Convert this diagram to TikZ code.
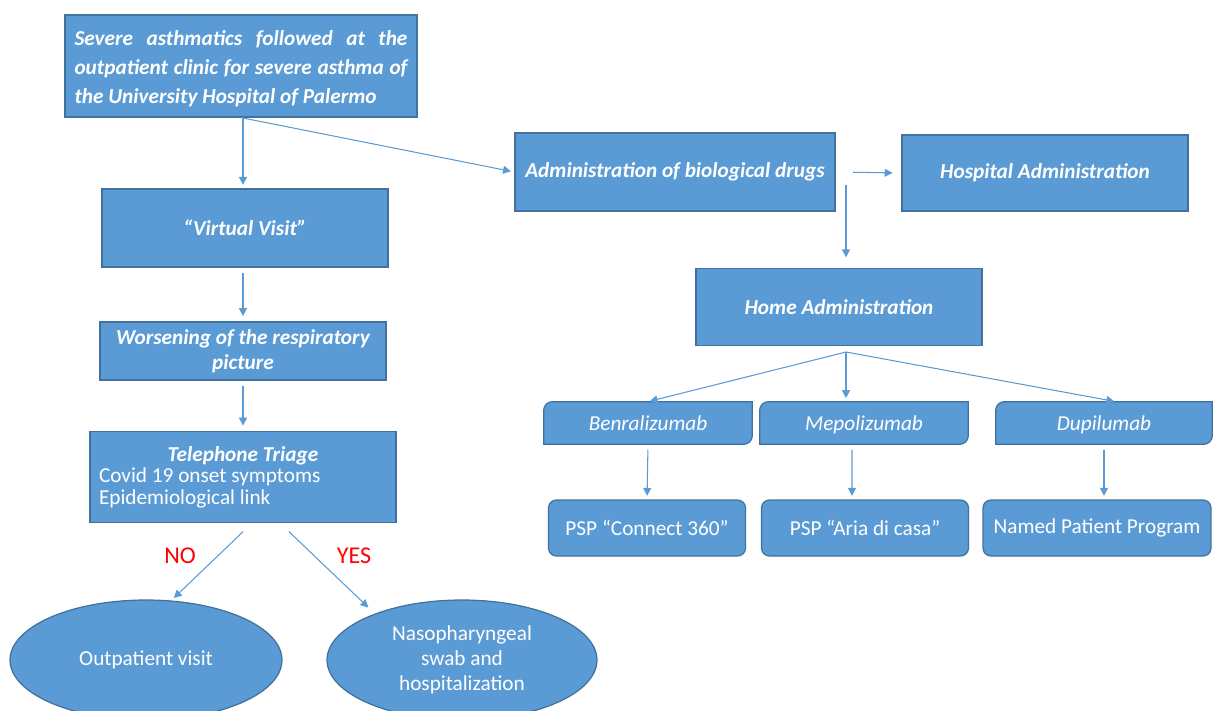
\documentclass[tikz,border=0pt]{standalone}
\usepackage{fontspec}
\setmainfont{Carlito}
\usetikzlibrary{arrows.meta,shapes.geometric,backgrounds}
\definecolor{boxblue}{HTML}{5B9BD5}
\definecolor{boxedge}{HTML}{41719C}
\newcommand\chartsize{\fontsize{12.1}{14.2}\selectfont}
\tikzset{
  box/.style={draw=boxedge, fill=boxblue, line width=0.7pt, text=white, align=center, inner sep=2pt},
  title/.style={font=\chartsize\bfseries\itshape},
  oval/.style={ellipse, draw=boxedge, fill=boxblue, line width=0.7pt, text=white, align=center, inner sep=0pt},
  link/.style={draw=boxblue, line width=0.6pt, -{Triangle[length=4.5pt,width=4.5pt]}},
  answer/.style={text=red, font=\fontsize{13.7}{15}\selectfont},
  drugbox/.style={text=white, font=\chartsize\itshape, minimum width=4.16cm, minimum height=0.84cm, inner sep=0pt,
    text height=1.9ex, text depth=0.2ex},
  pspbox/.style={box, rounded corners=4.5pt, minimum height=1.12cm},
}
% box with the top left and bottom right corners rounded
\newcommand\diagcorners[1]{\filldraw[draw=boxedge, fill=boxblue, line width=0.7pt]
  ([xshift=5pt]#1.north west) -- (#1.north east) -- ([yshift=5pt]#1.south east)
  arc[start angle=0, end angle=-90, radius=5pt] -- (#1.south west) -- ([yshift=-5pt]#1.north west)
  arc[start angle=180, end angle=90, radius=5pt] -- cycle;}
\begin{document}
\begin{tikzpicture}[x=0.02cm, y=-0.02cm, font=\chartsize]
\useasboundingbox (0,0) rectangle (1213,710);
% left column
\node[box, title, minimum width=7.04cm, minimum height=2.04cm, text width=6.66cm, align=justify,
  font=\fontsize{12.1}{16.4}\selectfont\bfseries\itshape, text depth=1.1cm] (clinic) at (241,66)
  {Severe asthmatics followed at the\linebreak outpatient clinic for severe asthma of\linebreak the University Hospital of Palermo};
\node[box, title, minimum width=5.72cm, minimum height=1.56cm] (virtual) at (245,228) {“Virtual Visit”};
\node[box, title, minimum width=5.72cm, minimum height=1.16cm] (worse) at (243,351)
  {Worsening of the respiratory\\picture};
\node[box, minimum width=6.12cm, minimum height=1.82cm, text width=5.76cm, align=flush left,
  font=\fontsize{12.1}{12.3}\selectfont] (triage) at (243,477)
  {\makebox[5.76cm]{\bfseries\itshape Telephone Triage}\\Covid 19 onset symptoms\\Epidemiological link};
\node[answer] (no) at (180,556) {NO};
\node[answer] (yes) at (354,556) {YES};
\node[oval, minimum width=5.44cm, minimum height=2.4cm] (outpatient) at (146,660) {Outpatient visit};
\node[oval, minimum width=5.4cm, minimum height=2.4cm] (swab) at (462,660)
  {Nasopharyngeal\\swab and\\hospitalization};
% right side
\node[box, title, minimum width=6.4cm, minimum height=1.56cm] (biologic) at (675,172) {Administration of biological drugs};
\node[box, title, minimum width=5.72cm, minimum height=1.52cm] (hospital) at (1045,173) {Hospital Administration};
\node[box, title, minimum width=5.72cm, minimum height=1.54cm] (home) at (839,307) {Home Administration};
\node[drugbox] (benra) at (648,423) {Benralizumab};
\node[drugbox] (mepo) at (864,423) {Mepolizumab};
\node[drugbox, minimum width=4.32cm] (dupi) at (1104,423) {Dupilumab};
\begin{scope}[on background layer]
\diagcorners{benra}
\diagcorners{mepo}
\diagcorners{dupi}
\end{scope}
\node[pspbox, minimum width=3.94cm] (connect) at (647,528) {PSP “Connect 360”};
\node[pspbox, minimum width=4.14cm] (aria) at (865,528) {PSP “Aria di casa”};
\node[pspbox, minimum width=4.56cm] (named) at (1097,528) {Named Patient Program};
\coordinate (split) at (846,185);
\coordinate (hub) at (846,352);
% connectors
\draw[link, shorten >=2pt] ([xshift=0.04cm]clinic.south) -- ([xshift=0.04cm]clinic.south |- virtual.north);
\draw[link, shorten <=3pt, shorten >=3pt] (worse.north |- virtual.south) -- (worse.north);
\draw[link, shorten <=3pt, shorten >=3pt] (worse.south) -- (triage.north);
\draw[link, shorten >=2pt] (clinic.south) -- (biologic.west);
\draw[link, shorten <=10pt, shorten >=5pt] (biologic.east) -- (hospital.west);
\draw[link, shorten >=6pt] (split) -- (split |- home.north);
\draw[link, shorten >=1pt] (hub) -- (benra.north);
\draw[link, shorten >=2pt] (hub) -- (hub |- mepo.north);
\draw[link, shorten >=1pt] (hub) -- ([xshift=0.24cm]dupi.north);
\draw[link, shorten <=3pt, shorten >=2pt] (benra.south) -- (connect.north);
\draw[link, shorten <=3pt, shorten >=2pt] ([xshift=-0.24cm]mepo.south) -- ([xshift=-0.26cm]aria.north);
\draw[link, shorten <=3pt, shorten >=2pt] (dupi.south) -- (dupi.south |- named.north);
\draw[link, shorten <=7pt, shorten >=2pt] ([xshift=0.18cm]triage.south) -- (outpatient.67);
\draw[link, shorten <=7pt, shorten >=5pt] ([xshift=0.74cm]triage.south) -- (swab.152);
\end{tikzpicture}
\end{document}
